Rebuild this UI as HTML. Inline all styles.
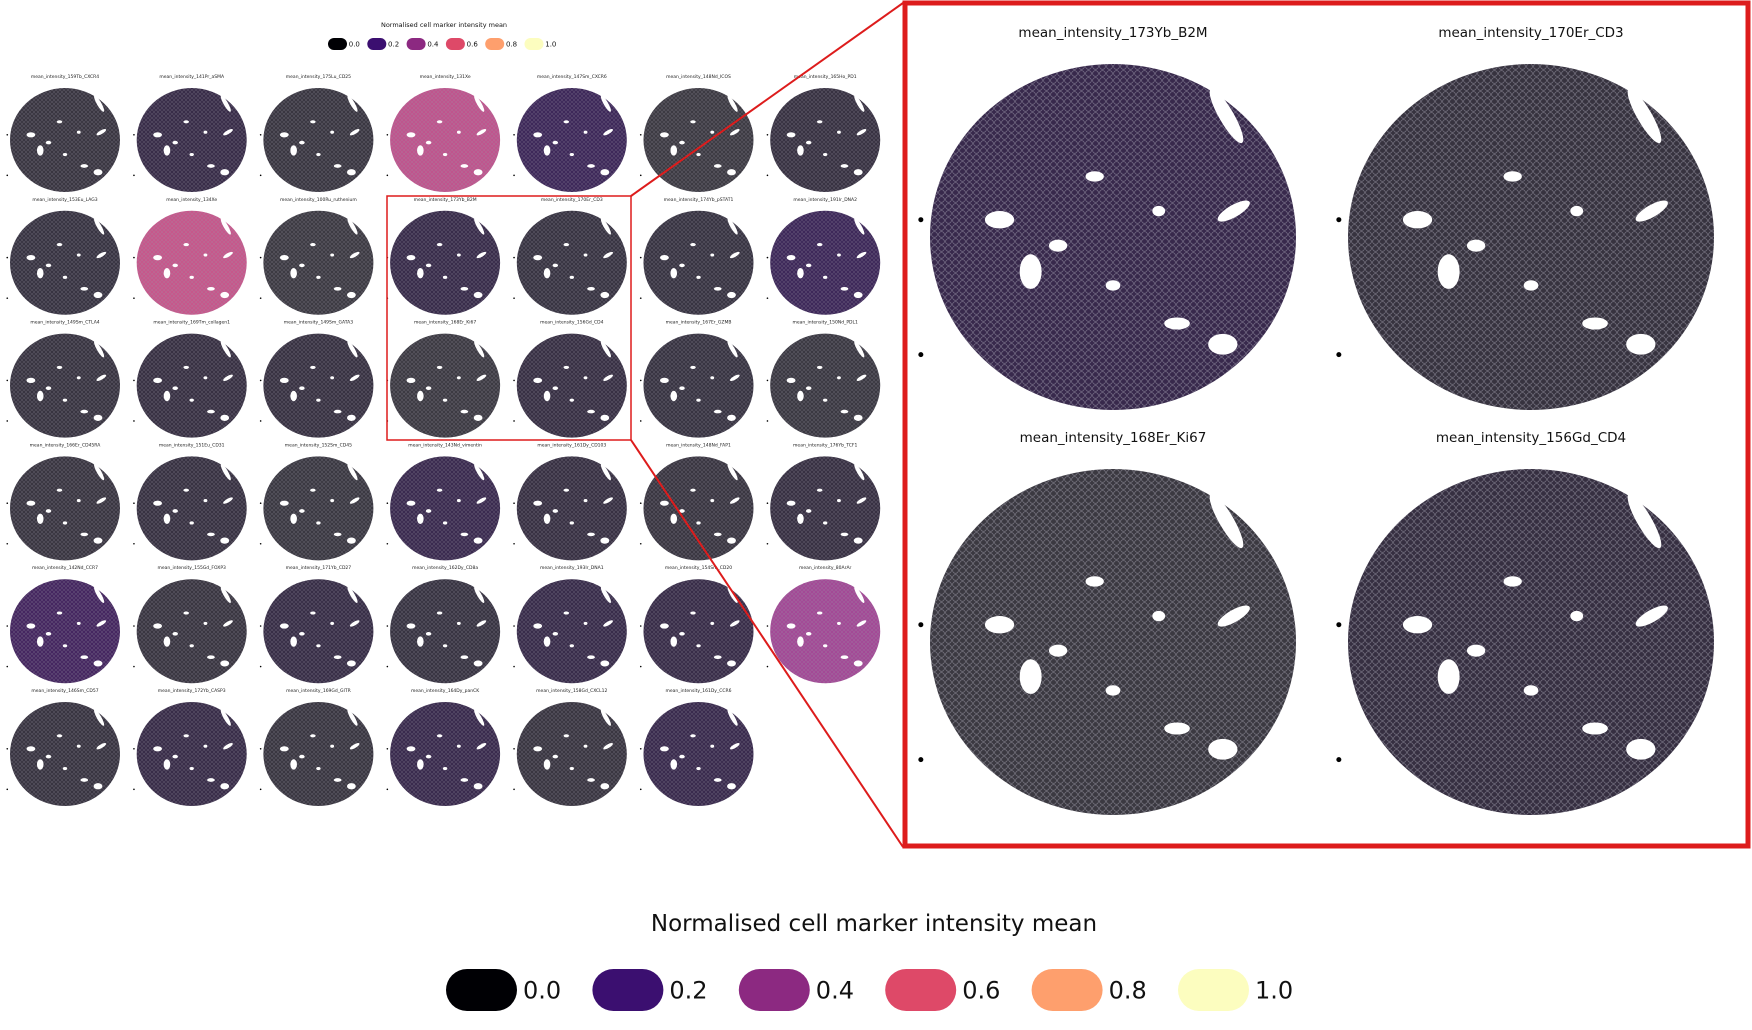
<!DOCTYPE html>
<html><head><meta charset="utf-8"><style>
html,body{margin:0;padding:0;background:#fff;}
svg{display:block;font-family:"DejaVu Sans","Liberation Sans",sans-serif;}
</style></head><body>
<svg id="fig" width="1752" height="1030" viewBox="0 0 1752 1030" xmlns="http://www.w3.org/2000/svg">
<defs>
<pattern id="speck" width="4" height="4" patternUnits="userSpaceOnUse">
<circle cx="2" cy="2" r="1.4" fill="none" stroke="#9a98a6" stroke-width="0.5" opacity="0.5"/>
</pattern>
<pattern id="speckBig" width="7" height="7" patternUnits="userSpaceOnUse">
<circle cx="3.5" cy="3.5" r="2.9" fill="none" stroke="#a9a7b5" stroke-width="0.7" opacity="0.55"/>
</pattern>
</defs>
<g id="panels"></g>
<g id="zoom"></g>
<g id="legends"></g>
</svg>
<script>
const markers = [
"159Tb_CXCR4","141Pr_aSMA","175Lu_CD25","131Xe","147Sm_CXCR6","148Nd_ICOS","165Ho_PD1",
"153Eu_LAG3","134Xe","100Ru_ruthenium","173Yb_B2M","170Er_CD3","174Yb_pSTAT1","191Ir_DNA2",
"149Sm_CTLA4","169Tm_collagen1","149Sm_GATA3","168Er_Ki67","156Gd_CD4","167Er_GZMB","150Nd_PDL1",
"166Er_CD45RA","151Eu_CD31","152Sm_CD45","143Nd_vimentin","161Dy_CD103","148Nd_FAP1","176Yb_TCF1",
"142Nd_CCR7","155Gd_FOXP3","171Yb_CD27","162Dy_CD8a","193Ir_DNA1","154Sm_CD20","80ArAr",
"146Sm_CD57","172Yb_CASP3","169Gd_GITR","164Dy_panCK","158Gd_CXCL12","161Dy_CCR6"];
const meanValues = [
0.06,0.14,0.05,0.5,0.2,0.02,0.09,
0.08,0.52,0.02,0.15,0.08,0.08,0.2,
0.07,0.1,0.09,0.02,0.11,0.08,0.04,
0.06,0.09,0.04,0.17,0.1,0.06,0.1,
0.24,0.06,0.13,0.08,0.15,0.14,0.42,
0.07,0.14,0.05,0.16,0.06,0.16];
const zoomMarkers = ["173Yb_B2M","170Er_CD3","168Er_Ki67","156Gd_CD4"];
const zoomValues = [0.16,0.07,0.02,0.1];
const legendTicks = ["0.0","0.2","0.4","0.6","0.8","1.0"];
const legendColors = ["#000004","#3b0f70","#8c2981","#de4968","#fe9f6d","#fcfdbf"];

const NS="http://www.w3.org/2000/svg";
function mk(tag,attrs,parent){const e=document.createElementNS(NS,tag);for(const k in attrs)e.setAttribute(k,attrs[k]);parent.appendChild(e);return e;}
function hex(h){return [1,3,5].map(i=>parseInt(h.substr(i,2),16));}
function magma(v){v=Math.max(0,Math.min(1,v));const p=v*5,i=Math.min(4,Math.floor(p)),t=p-i;const a=hex(legendColors[i]),b=hex(legendColors[i+1]);return a.map((c,k)=>c+(b[k]-c)*t);}
function tone(v){const m=magma(v*0.97);const g=[62,60,68];const w=Math.min(0.9,v*2.4);return "rgb("+m.map((c,k)=>Math.min(255,Math.round(g[k]*(1-w)+c*w+(v>0.3?28:0)))).join(",")+")";}
const holes=[[0.62,-0.7,0.04,0.18,-30],[0.66,-0.15,0.1,0.035,-30],[-0.62,-0.1,0.08,0.05,0],[-0.45,0.2,0.06,0.1,0],[-0.3,0.05,0.05,0.035,0],[0.35,0.5,0.07,0.035,0],[0.6,0.62,0.08,0.06,0],[0.0,0.28,0.04,0.03,0],[-0.1,-0.35,0.05,0.03,0],[0.25,-0.15,0.035,0.03,0]];
function tissue(g,cx,cy,rx,ry,v,big,name){
  const e=mk("ellipse",{cx,cy,rx,ry,fill:tone(v)},g);
  
  
  mk("ellipse",{cx,cy,rx,ry,fill:big?"url(#speckBig)":"url(#speck)"},g);
  holes.forEach(h=>{const hx=cx+h[0]*rx,hy=cy+h[1]*ry;mk("ellipse",{cx:hx,cy:hy,rx:h[2]*rx,ry:h[3]*ry,fill:"#fff",transform:"rotate("+h[4]+" "+hx+" "+hy+")"},g);});
  mk("circle",{cx:cx-rx*1.05,cy:cy-ry*0.1,r:big?2.5:0.8,fill:"#000"},g);
  mk("circle",{cx:cx-rx*1.05,cy:cy+ry*0.68,r:big?2.5:0.8,fill:"#000"},g);
}
const P=document.getElementById("panels");
const colX=c=>65+c*126.7, rowY=r=>140+r*122.8;
markers.forEach((m,i)=>{
  const c=i%7,r=Math.floor(i/7);
  const g=mk("g",{},P);
  
  
  const t=mk("text",{x:colX(c),y:rowY(r)-62,"font-size":"4.5","text-anchor":"middle",fill:"#222"},g);
  t.textContent="mean_intensity_"+m;
  tissue(g,colX(c),rowY(r),55,52,meanValues[i],false,m);
});
const hb=mk("rect",{x:387,y:196,width:244,height:244,fill:"none",stroke:"#dd1c1c","stroke-width":1.5},P);


mk("line",{x1:631,y1:196,x2:903,y2:3,stroke:"#dd1c1c","stroke-width":2},P);
mk("line",{x1:631,y1:440,x2:903,y2:847,stroke:"#dd1c1c","stroke-width":2},P);
const Z=document.getElementById("zoom");
const zb=mk("rect",{x:905,y:3,width:843,height:843,fill:"#fff",stroke:"#dd1c1c","stroke-width":5},Z);


const zX=c=>1113+c*418, zY=r=>237+r*405;
zoomMarkers.forEach((m,i)=>{
  const c=i%2,r=Math.floor(i/2);
  const g=mk("g",{},Z);
  
  
  const t=mk("text",{x:zX(c),y:zY(r)-200,"font-size":"13.5","text-anchor":"middle",fill:"#111"},g);
  t.textContent="mean_intensity_"+m;
  tissue(g,zX(c),zY(r),183,173,zoomValues[i],true,m);
});
const L=document.getElementById("legends");
function legend(x0,cy,dx,ew,eh,fs,titleX,titleY,tfs,name){
  const g=mk("g",{},L);
  
  
  const t=mk("text",{x:titleX,y:titleY,"font-size":tfs,"text-anchor":"middle",fill:"#111"},g);
  t.textContent="Normalised cell marker intensity mean";
  legendTicks.forEach((lab,i)=>{
    const e=mk("rect",{x:x0+i*dx,y:cy-eh/2,width:ew,height:eh,rx:eh/2,fill:legendColors[i]},g);
    
    
    const tt=mk("text",{x:x0+i*dx+ew+fs*0.25,y:cy+fs*0.36,"font-size":fs,fill:"#111"},g);
    tt.textContent=lab;
  });
}
legend(328,44,39.3,19,12,7,444,27,6.5,"top-legend");
legend(446,990,146.4,71,42,24,874,931,23,"bottom-legend");
</script>
</body></html>
